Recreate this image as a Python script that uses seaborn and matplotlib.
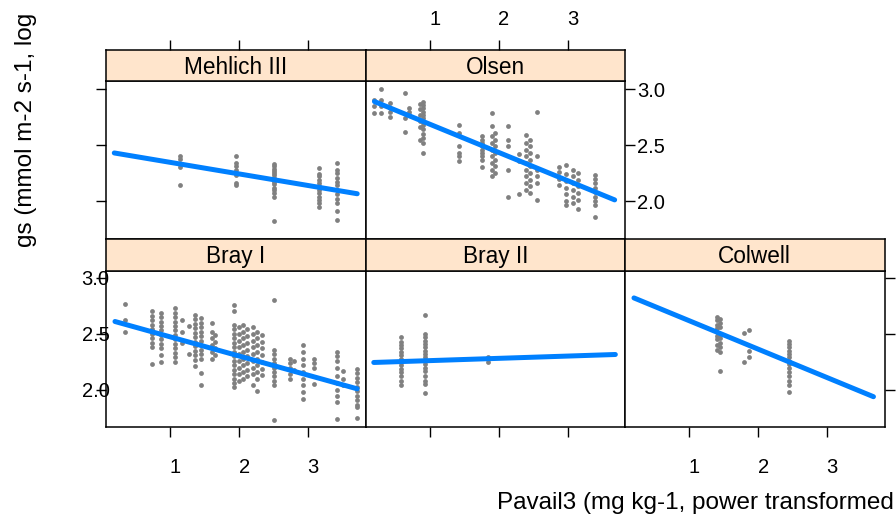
import matplotlib
matplotlib.use("Agg")
import matplotlib.pyplot as plt
from matplotlib.transforms import ScaledTranslation
import seaborn as sns
import pandas as pd

sns.set_theme(style="white")
plt.rcParams['font.family'] = ['Liberation Sans', 'DejaVu Sans']

# ---------------- data ----------------
panel_names = ["Mehlich III", "Olsen", "Bray I", "Bray II", "Colwell"]

mehlich_clusters = [
    (1.145, [2.40, 2.375, 2.335, 2.30, 2.14]),
    (1.957, [2.40, 2.34, 2.31, 2.275, 2.235, 2.165, 2.14]),
    (2.50, [2.33, 2.31, 2.29, 2.27, 2.25, 2.23, 2.21, 2.19, 2.17, 2.15, 2.12, 2.10, 2.07, 2.04, 1.82]),
    (3.155, [2.295, 2.24, 2.22, 2.19, 2.16, 2.13, 2.10, 2.07, 2.04, 2.01, 1.98, 1.95]),
    (3.41, [2.34, 2.28, 2.25, 2.21, 2.17, 2.14, 2.10, 2.06, 2.02, 1.98, 1.91, 1.83]),
]

olsen_clusters = [
    (0.20, [2.90, 2.85, 2.79]),
    (0.30, [3.00, 2.90, 2.85, 2.79]),
    (0.42, [2.875, 2.83, 2.80, 2.755]),
    (0.64, [2.97, 2.74, 2.62]),
    (0.70, [2.83, 2.80, 2.77]),
    (0.86, [2.87, 2.82, 2.77, 2.72, 2.66, 2.55]),
    (0.90, [2.89, 2.86, 2.83, 2.80, 2.77, 2.74, 2.71, 2.68, 2.64, 2.60, 2.56, 2.52, 2.43]),
    (1.43, [2.68, 2.61, 2.49, 2.43, 2.40, 2.355]),
    (1.76, [2.58, 2.55, 2.52, 2.49, 2.46, 2.43, 2.40, 2.37, 2.30]),
    (1.90, [2.79, 2.67, 2.58, 2.52, 2.46, 2.40, 2.34, 2.28, 2.22]),
    (1.94, [2.61, 2.55, 2.49, 2.43, 2.37, 2.31, 2.25]),
    (2.13, [2.67, 2.55, 2.49, 2.28, 2.04]),
    (2.30, [2.42, 2.36, 2.06]),
    (2.40, [2.59, 2.52, 2.46, 2.40, 2.34, 2.28, 2.22, 2.16, 2.10]),
    (2.46, [2.55, 2.49, 2.43, 2.37, 2.31, 2.25, 2.19, 2.13, 2.07]),
    (2.56, [2.80, 2.40, 2.28, 2.22, 2.16, 2.01]),
    (2.88, [2.30, 2.26, 2.20, 2.14]),
    (2.98, [2.32, 2.24, 2.18, 2.12, 2.06, 2.00, 1.96]),
    (3.08, [2.28, 2.22, 2.16, 2.10, 2.04, 1.98]),
    (3.15, [2.25, 2.19, 2.13, 2.07, 2.01, 1.93]),
    (3.39, [2.235, 2.20, 2.16, 2.12, 2.08, 2.04, 2.00, 1.96, 1.86]),
]

brayI_clusters = [
    (0.35, [2.77, 2.62, 2.52]),
    (0.735, [2.70, 2.66, 2.62, 2.58, 2.54, 2.50, 2.46, 2.42, 2.38, 2.23]),
    (0.86, [2.69, 2.65, 2.61, 2.57, 2.53, 2.49, 2.45, 2.41, 2.37, 2.31, 2.25]),
    (1.07, [2.73, 2.69, 2.65, 2.61, 2.57, 2.53, 2.49, 2.45, 2.41, 2.37, 2.33, 2.29, 2.25]),
    (1.17, [2.62, 2.52, 2.42]),
    (1.27, [2.57, 2.32]),
    (1.36, [2.67, 2.63, 2.59, 2.55, 2.51, 2.47, 2.43, 2.39, 2.35, 2.31, 2.27, 2.21]),
    (1.44, [2.64, 2.60, 2.56, 2.52, 2.48, 2.44, 2.40, 2.36, 2.32, 2.28, 2.15, 2.04]),
    (1.60, [2.60, 2.52, 2.46, 2.40, 2.34, 2.28]),
    (1.65, [2.49, 2.43, 2.37, 2.31]),
    (1.92, [2.76, 2.70, 2.58, 2.54, 2.50, 2.46, 2.42, 2.38, 2.34, 2.30, 2.26, 2.22, 2.18, 2.14, 2.10, 2.06, 2.03]),
    (2.00, [2.56, 2.50, 2.44, 2.38, 2.32, 2.26, 2.20, 2.14, 2.08]),
    (2.06, [2.58, 2.52, 2.46, 2.40, 2.34, 2.28, 2.22, 2.16, 2.10]),
    (2.12, [2.54, 2.48, 2.42, 2.36, 2.30, 2.24, 2.18, 2.12]),
    (2.20, [2.56, 2.50, 2.44, 2.38, 2.32, 2.26, 2.20, 2.14, 2.04]),
    (2.26, [2.52, 2.46, 2.40, 2.34, 2.28, 2.22, 2.16, 2.10, 1.99]),
    (2.33, [2.49, 2.43, 2.37, 2.31, 2.25, 2.19, 2.13]),
    (2.50, [2.80, 2.36, 2.32, 2.28, 2.24, 2.20, 2.16, 2.12, 2.08, 2.04, 1.73]),
    (2.74, [2.28, 2.24, 2.20, 2.14, 2.10]),
    (2.80, [2.26, 2.18]),
    (2.93, [2.40, 2.34, 2.28, 2.22, 2.16, 2.10, 2.04, 1.98, 1.92]),
    (3.08, [2.28, 2.24, 2.20, 2.05]),
    (3.41, [2.34, 2.30, 2.26, 2.20, 2.12, 2.06, 2.00, 1.95, 1.89, 1.74]),
    (3.50, [2.17, 2.10, 2.04]),
    (3.70, [2.19, 2.15, 2.11, 2.07, 2.03, 1.99, 1.95, 1.91, 1.87, 1.85, 1.75]),
]

brayII_clusters = [
    (0.59, [2.47, 2.43, 2.40, 2.37, 2.34, 2.31, 2.28, 2.25, 2.22, 2.19, 2.16, 2.12, 2.08, 2.04]),
    (0.93, [2.67, 2.50, 2.47, 2.44, 2.41, 2.38, 2.35, 2.32, 2.29, 2.26, 2.23, 2.20, 2.17, 2.12, 2.08, 2.05, 1.97]),
    (1.85, [2.295, 2.25]),
]

colwell_clusters = [
    (1.40, [2.65, 2.62, 2.58, 2.55, 2.52, 2.48, 2.45, 2.40, 2.36]),
    (1.45, [2.63, 2.60, 2.56, 2.50, 2.46, 2.42, 2.38, 2.34, 2.17]),
    (1.79, [2.51, 2.245]),
    (1.87, [2.53, 2.345, 2.295]),
    (2.45, [2.44, 2.41, 2.38, 2.35, 2.32, 2.29, 2.26, 2.23, 2.20, 2.16, 2.12, 2.08, 2.04, 1.98]),
]

# fitted line end points per panel (same order as panel_names)
line_x_start = [0.19, 0.20, 0.20, 0.19, 0.20]
line_x_end = [3.71, 3.68, 3.71, 3.69, 3.67]
line_y_start = [2.43, 2.89, 2.61, 2.245, 2.82]
line_y_end = [2.065, 2.01, 2.01, 2.316, 1.94]

x_ticks = [1, 2, 3]
x_tick_labels = ["1", "2", "3"]
y_ticks = [2.0, 2.5, 3.0]
y_tick_labels = ["2.0", "2.5", "3.0"]
x_label = "Pavail3 (mg kg-1, power transformed"
y_label = "gs (mmol m-2 s-1, log"

# ---------------- layout ----------------
W, H = 896, 522
fig = plt.figure(figsize=(W / 100, H / 100), dpi=100)
fig.patch.set_facecolor("white")

col_left = [106, 365.5, 625]
col_w = 259.5
rows = {0: dict(strip_top=50, plot_top=81, plot_bot=239, ylim=(1.66, 3.074)),
        1: dict(strip_top=239, plot_top=271, plot_bot=427, ylim=(1.67, 3.06))}
xlim = (0.07, 3.83)

layout = {"Mehlich III": (0, 0), "Olsen": (0, 1), "Bray I": (1, 0),
          "Bray II": (1, 1), "Colwell": (1, 2)}
clusters = {"Mehlich III": mehlich_clusters, "Olsen": olsen_clusters,
            "Bray I": brayI_clusters, "Bray II": brayII_clusters,
            "Colwell": colwell_clusters}

tick_fs = 14.5
strip_fs = 16.3
lab_fs = 17.5
tick_len = 7
label_shift = ScaledTranslation(5 / 100, 0, fig.dpi_scale_trans)


def px_axes(left, top, w, h):
    return fig.add_axes([left / W, 1 - (top + h) / H, w / W, h / H])


for i, name in enumerate(panel_names):
    r, c = layout[name]
    rc = rows[r]
    ax = px_axes(col_left[c], rc["plot_top"], col_w, rc["plot_bot"] - rc["plot_top"])
    st = px_axes(col_left[c], rc["strip_top"], col_w, rc["plot_top"] - rc["strip_top"])

    pts = pd.DataFrame([(x, y) for x, ys in clusters[name] for y in ys], columns=["x", "y"])
    sns.scatterplot(data=pts, x="x", y="y", ax=ax, color="#808080", s=12,
                    linewidth=0, legend=False, zorder=2)
    line = pd.DataFrame({"x": [line_x_start[i], line_x_end[i]],
                         "y": [line_y_start[i], line_y_end[i]]})
    sns.lineplot(data=line, x="x", y="y", ax=ax, color="#0080ff", linewidth=3.6,
                 solid_capstyle="round", zorder=3)

    ax.set_xlim(*xlim)
    ax.set_ylim(*rc["ylim"])
    st.set_xlim(*xlim)
    st.set_ylim(0, 1)
    ax.set_xlabel("")
    ax.set_ylabel("")
    ax.set_facecolor("white")
    st.set_facecolor("#ffe5cc")
    for a in (ax, st):
        for sp in a.spines.values():
            sp.set_color("black")
            sp.set_linewidth(1.1)
            sp.set_visible(True)
    st.text(0.5, 0.45, name, transform=st.transAxes, ha="center", va="center",
            fontsize=strip_fs, color="black")

    ax.set_xticks(x_ticks)
    ax.set_xticklabels(x_tick_labels)
    ax.set_yticks(y_ticks)
    ax.set_yticklabels(y_tick_labels)
    st.set_xticks(x_ticks)
    st.set_xticklabels(x_tick_labels)
    st.set_yticks([])
    common = dict(direction="out", length=tick_len, width=1.0, colors="black",
                  labelsize=tick_fs, labelcolor="black")
    ax.tick_params(axis="both", bottom=False, top=False, left=False, right=False,
                   labelbottom=False, labeltop=False, labelleft=False,
                   labelright=False, **common)
    st.tick_params(axis="both", bottom=False, top=False, left=False, right=False,
                   labelbottom=False, labeltop=False, labelleft=False,
                   labelright=False, **common)

    if name == "Mehlich III":
        st.tick_params(axis="x", top=True)
        ax.tick_params(axis="y", left=True)
    elif name == "Olsen":
        st.tick_params(axis="x", top=True, labeltop=True, pad=8)
        ax.tick_params(axis="y", right=True, labelright=True, pad=2)
    elif name == "Bray I":
        ax.tick_params(axis="y", left=True, labelleft=True, pad=-9.5)
        ax.tick_params(axis="x", bottom=True, labelbottom=True, pad=15)
    elif name == "Bray II":
        ax.tick_params(axis="x", bottom=True)
    elif name == "Colwell":
        ax.tick_params(axis="x", bottom=True, labelbottom=True, pad=15)
        ax.tick_params(axis="y", right=True)

    # lattice places the x tick labels a few pixels right of their ticks
    for a in (ax, st):
        for tk in a.xaxis.get_major_ticks():
            tk.label1.set_transform(tk.label1.get_transform() + label_shift)
            tk.label2.set_transform(tk.label2.get_transform() + label_shift)

fig.text(26 / W, 1 - 130 / H, y_label, rotation=90, ha="center", va="center",
         fontsize=lab_fs, color="black")
fig.text(497 / W, 1 - 503 / H, x_label, ha="left", va="center",
         fontsize=lab_fs, color="black")

fig.savefig("out.png", dpi=100)
